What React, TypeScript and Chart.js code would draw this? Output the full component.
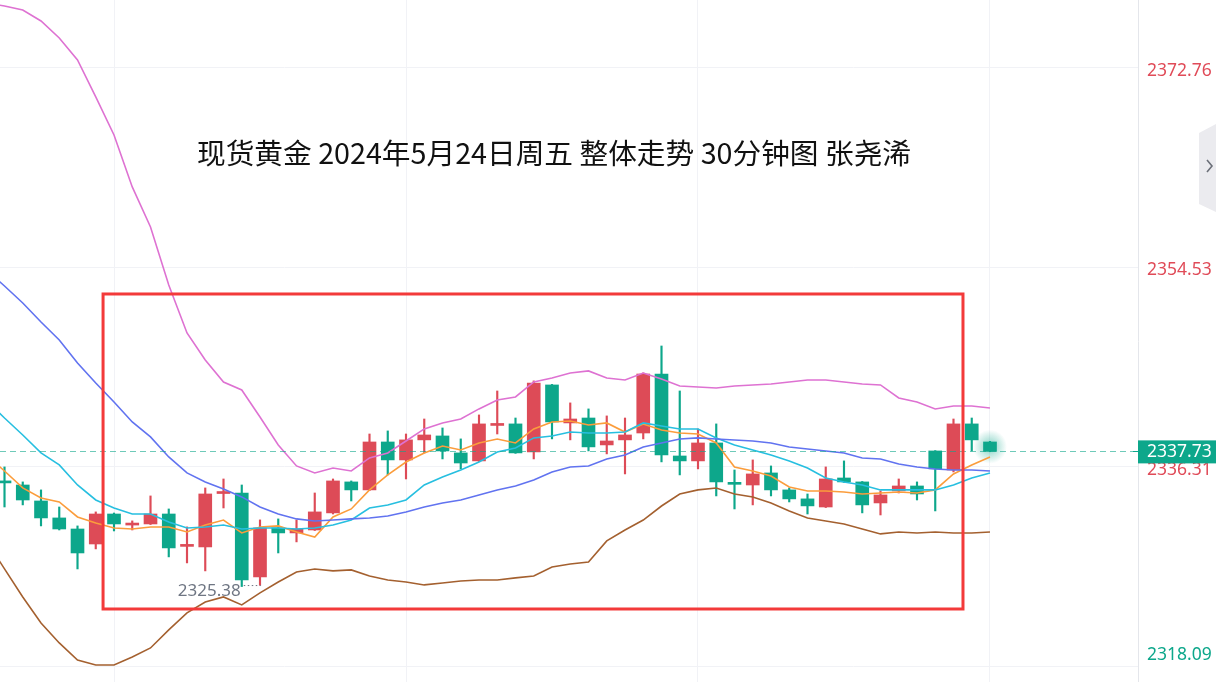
import React, { useEffect, useRef } from 'react';
import { Chart, registerables } from 'chart.js';

Chart.register(...registerables);

const TITLE = '现货黄金 2024年5月24日周五 整体走势 30分钟图 张尧浠';

// candles, index 0..54
const open = [2334.90, 2334.66, 2333.20, 2331.65, 2330.64, 2329.27, 2332.01, 2331.00, 2331.10, 2332.01, 2329.05, 2329.00, 2333.88, 2333.93, 2326.26, 2330.74, 2330.28, 2330.55, 2332.11, 2334.94, 2334.21, 2338.59, 2336.95, 2338.78, 2339.14, 2337.59, 2336.86, 2340.10, 2340.24, 2337.68, 2343.80, 2340.33, 2340.78, 2338.32, 2338.78, 2339.41, 2344.80, 2337.31, 2336.86, 2338.50, 2334.80, 2334.66, 2335.76, 2334.21, 2333.39, 2332.65, 2335.30, 2334.94, 2333.02, 2334.12, 2334.57, 2337.77, 2336.03, 2340.24, 2338.59];
const high = [2336.31, 2334.94, 2334.21, 2332.65, 2330.92, 2332.20, 2332.10, 2331.38, 2333.66, 2332.47, 2330.83, 2334.39, 2335.21, 2334.66, 2331.47, 2331.56, 2331.47, 2333.93, 2335.21, 2335.03, 2339.32, 2339.60, 2339.32, 2340.69, 2339.87, 2338.87, 2341.06, 2343.25, 2340.78, 2344.17, 2343.85, 2342.16, 2341.61, 2340.97, 2340.78, 2344.90, 2347.36, 2343.25, 2339.78, 2340.24, 2336.03, 2336.95, 2336.40, 2334.39, 2333.84, 2336.31, 2336.86, 2334.98, 2334.12, 2335.21, 2334.94, 2337.80, 2340.69, 2340.78, 2338.65];
const low = [2332.65, 2332.84, 2330.92, 2330.55, 2326.99, 2328.82, 2330.46, 2330.55, 2331.05, 2328.09, 2327.54, 2326.81, 2332.56, 2325.38, 2325.50, 2328.45, 2329.46, 2330.50, 2332.01, 2333.20, 2334.15, 2335.58, 2335.21, 2337.59, 2337.04, 2336.13, 2336.80, 2339.32, 2337.55, 2337.04, 2338.87, 2338.78, 2337.77, 2337.50, 2335.67, 2338.87, 2336.77, 2335.58, 2336.13, 2333.66, 2332.47, 2332.84, 2333.66, 2333.11, 2332.01, 2332.60, 2334.90, 2332.11, 2331.92, 2333.93, 2333.29, 2332.29, 2335.85, 2337.77, 2337.70];
const close = [2334.85, 2333.29, 2331.65, 2330.64, 2328.45, 2332.01, 2331.10, 2331.06, 2332.01, 2328.91, 2329.12, 2333.84, 2333.95, 2325.99, 2330.74, 2330.28, 2330.64, 2332.20, 2335.03, 2334.21, 2338.59, 2336.95, 2338.78, 2339.23, 2337.77, 2336.67, 2340.24, 2340.16, 2337.59, 2343.98, 2340.42, 2340.69, 2338.14, 2338.68, 2339.23, 2344.80, 2337.40, 2336.86, 2338.50, 2334.94, 2334.72, 2335.67, 2334.21, 2333.39, 2332.75, 2335.21, 2334.94, 2332.84, 2333.75, 2334.57, 2333.84, 2336.13, 2340.24, 2338.78, 2337.73];

// indicator lines, index -1..54
const LINE_START = -1;
const ma5 = [2337.40, 2335.94, 2334.39, 2333.47, 2333.11, 2331.74, 2331.19, 2330.73, 2330.64, 2330.82, 2330.82, 2330.37, 2331.01, 2331.46, 2330.28, 2330.82, 2330.92, 2330.37, 2329.91, 2331.74, 2332.47, 2334.21, 2335.58, 2336.76, 2337.59, 2338.22, 2337.86, 2338.50, 2338.86, 2338.50, 2339.78, 2340.42, 2340.51, 2340.14, 2340.33, 2339.50, 2340.23, 2339.69, 2339.41, 2339.32, 2338.50, 2336.31, 2335.94, 2335.48, 2334.48, 2334.11, 2334.11, 2334.02, 2333.84, 2333.93, 2334.02, 2333.93, 2334.21, 2335.67, 2336.49, 2337.22];
const ma10 = [2342.43, 2340.78, 2339.23, 2337.59, 2336.49, 2334.66, 2333.29, 2332.56, 2332.01, 2332.01, 2331.28, 2330.73, 2330.82, 2331.01, 2330.64, 2330.73, 2330.73, 2330.64, 2330.73, 2331.01, 2331.46, 2332.56, 2332.83, 2333.29, 2334.66, 2335.39, 2336.03, 2336.76, 2337.68, 2338.04, 2338.96, 2339.14, 2339.50, 2339.41, 2339.41, 2339.50, 2340.33, 2340.05, 2339.78, 2339.78, 2338.96, 2338.32, 2337.86, 2337.40, 2336.85, 2336.21, 2335.30, 2334.94, 2334.66, 2334.21, 2334.21, 2334.21, 2334.21, 2334.66, 2335.30, 2335.76];
const bollMid = [2354.30, 2352.84, 2351.29, 2349.55, 2347.91, 2345.81, 2343.98, 2342.24, 2340.42, 2339.05, 2337.22, 2335.76, 2334.94, 2334.30, 2333.57, 2332.65, 2332.01, 2331.56, 2331.37, 2331.46, 2331.56, 2331.65, 2331.83, 2332.20, 2332.65, 2333.02, 2333.29, 2333.75, 2334.21, 2334.57, 2335.12, 2335.85, 2336.31, 2336.40, 2337.04, 2337.40, 2338.13, 2338.50, 2338.86, 2338.96, 2338.86, 2338.77, 2338.68, 2338.50, 2338.13, 2337.95, 2337.77, 2337.59, 2337.13, 2337.04, 2336.58, 2336.31, 2336.12, 2336.03, 2336.03, 2335.94];
const bollUp = [2378.70, 2378.42, 2378.06, 2377.05, 2375.50, 2373.49, 2370.11, 2366.64, 2361.89, 2358.23, 2352.93, 2348.55, 2346.08, 2344.07, 2343.34, 2340.87, 2338.32, 2336.40, 2335.76, 2336.21, 2335.94, 2337.13, 2337.59, 2338.68, 2339.78, 2340.33, 2340.69, 2341.61, 2342.43, 2342.70, 2344.07, 2344.44, 2344.89, 2345.08, 2344.44, 2344.25, 2344.89, 2344.35, 2343.71, 2343.61, 2343.52, 2343.71, 2343.80, 2343.89, 2344.07, 2344.25, 2344.25, 2344.07, 2343.89, 2343.80, 2342.61, 2342.24, 2341.61, 2341.88, 2341.88, 2341.70];
const bollDn = [2329.60, 2326.99, 2324.43, 2322.05, 2320.23, 2318.67, 2318.22, 2318.22, 2318.95, 2319.77, 2321.42, 2322.97, 2323.97, 2324.43, 2323.70, 2324.80, 2325.80, 2326.71, 2326.99, 2326.81, 2326.90, 2326.35, 2325.98, 2325.80, 2325.53, 2325.71, 2325.89, 2325.98, 2325.98, 2326.17, 2326.35, 2327.17, 2327.44, 2327.63, 2329.55, 2330.55, 2331.46, 2332.74, 2333.84, 2334.21, 2334.39, 2333.84, 2333.57, 2333.02, 2332.29, 2331.65, 2331.37, 2331.10, 2330.64, 2330.19, 2330.37, 2330.28, 2330.37, 2330.28, 2330.28, 2330.37];

const yTicks = [2318.09, 2336.31, 2354.53, 2372.76];
const xGridIdx = [6, 22, 38, 54];
const X_RANGE = [-0.247, 62.11];
const Y_RANGE = [2316.66, 2378.97];
const PREV_CLOSE = 2330.0;
const LAST_PRICE = 2337.73;
const LOW_INDEX = 13;
const LOW_VALUE = 2325.38;
const BOX_X = [5.4, 52.52];
const BOX_Y = [2323.33, 2352.11];

const UP = '#dd4b57';
const DOWN = '#0da78b';

const candleIdx = open.map((_, i) => i);
const isUp = candleIdx.map((i) => close[i] >= open[i]);
const candleColors = isUp.map((u) => (u ? UP : DOWN));

const lineData = (arr: number[]) => arr.map((v, k) => ({ x: k + LINE_START, y: v }));

const overlay = {
  id: 'overlay',
  beforeDatasetsDraw(chart: any) {
    const { ctx, scales } = chart;
    const x = scales.x, y = scales.y;
    const last = open.length - 1;
    const cx = x.getPixelForValue(last);
    const cy = y.getPixelForValue((open[last] + close[last]) / 2);
    ctx.save();
    const g = ctx.createRadialGradient(cx, cy, 2, cx, cy, 17);
    g.addColorStop(0, 'rgba(13,167,139,0.45)');
    g.addColorStop(1, 'rgba(13,167,139,0)');
    ctx.fillStyle = g;
    ctx.beginPath();
    ctx.arc(cx, cy, 17, 0, Math.PI * 2);
    ctx.fill();
    ctx.restore();
  },
  afterDatasetsDraw(chart: any) {
    const { ctx, chartArea, scales } = chart;
    const x = scales.x, y = scales.y;
    ctx.save();
    // last price dashed line
    const py = Math.round(y.getPixelForValue(LAST_PRICE)) + 0.5;
    ctx.strokeStyle = 'rgba(13,167,139,0.6)';
    ctx.lineWidth = 1.2;
    ctx.setLineDash([6, 4]);
    ctx.beginPath();
    ctx.moveTo(chartArea.left, py);
    ctx.lineTo(chartArea.right, py);
    ctx.stroke();
    ctx.setLineDash([]);

    // low marker
    const lx = x.getPixelForValue(LOW_INDEX);
    const ly = y.getPixelForValue(LOW_VALUE);
    ctx.fillStyle = '#6f7683';
    ctx.font = '17px "Noto Sans", "DejaVu Sans", sans-serif';
    ctx.textAlign = 'right';
    ctx.textBaseline = 'middle';
    ctx.fillText(LOW_VALUE.toFixed(2), lx - 1, ly + 5);
    ctx.strokeStyle = '#6f7683';
    ctx.lineWidth = 1;
    ctx.setLineDash([1.5, 2.5]);
    ctx.beginPath();
    ctx.moveTo(lx + 2, ly - 1);
    ctx.lineTo(lx + 19, ly - 1);
    ctx.stroke();
    ctx.setLineDash([]);

    // red box
    const x0 = x.getPixelForValue(BOX_X[0]);
    const x1 = x.getPixelForValue(BOX_X[1]);
    const y0 = y.getPixelForValue(BOX_Y[1]);
    const y1 = y.getPixelForValue(BOX_Y[0]);
    ctx.strokeStyle = '#f33a3a';
    ctx.lineWidth = 3;
    ctx.strokeRect(x0, y0, x1 - x0, y1 - y0);
    ctx.restore();
  },
  afterDraw(chart: any) {
    const { ctx, chartArea, scales, width } = chart;
    const y = scales.y;
    ctx.save();
    // y tick labels
    ctx.font = '17.5px "Noto Sans", "DejaVu Sans", sans-serif';
    ctx.textAlign = 'left';
    ctx.textBaseline = 'middle';
    yTicks.forEach((v) => {
      let py = y.getPixelForValue(v) + 3;
      py = Math.min(py, chartArea.bottom - 27);
      ctx.fillStyle = v > PREV_CLOSE ? '#e04b58' : '#0da78b';
      ctx.fillText(v.toFixed(2), chartArea.right + 9, py);
    });
    // last price box
    const py = y.getPixelForValue(LAST_PRICE);
    ctx.fillStyle = '#0da78b';
    ctx.fillRect(chartArea.right, py - 11, width - chartArea.right, 23);
    ctx.fillRect(chartArea.right - 5, Math.round(py), 5, 1);
    ctx.fillStyle = '#ffffff';
    ctx.fillText(LAST_PRICE.toFixed(2), chartArea.right + 9, py + 1);

    // side tab
    ctx.fillStyle = '#ebebef';
    ctx.beginPath();
    ctx.moveTo(1199, 133);
    ctx.lineTo(1216, 124);
    ctx.lineTo(1216, 212);
    ctx.lineTo(1199, 204);
    ctx.closePath();
    ctx.fill();
    ctx.strokeStyle = '#6b6f78';
    ctx.lineWidth = 1.6;
    ctx.beginPath();
    ctx.moveTo(1207, 160);
    ctx.lineTo(1212, 166);
    ctx.lineTo(1207, 172);
    ctx.stroke();

    // title
    ctx.fillStyle = '#111111';
    ctx.font = '28.7px "Noto Sans CJK SC", "Noto Sans", sans-serif';
    ctx.textAlign = 'center';
    ctx.textBaseline = 'middle';
    ctx.fillText(TITLE, 554, 153);
    ctx.restore();
  },
};

export default function App() {
  const ref = useRef<HTMLCanvasElement>(null);
  useEffect(() => {
    const lineDs = (label: string, data: number[], color: string) => ({
      type: 'line' as const,
      label,
      data: lineData(data),
      borderColor: color,
      borderWidth: 1.6,
      pointRadius: 0,
      tension: 0,
      fill: false,
      order: 0,
    });
    const chart = new Chart(ref.current as HTMLCanvasElement, {
      type: 'bar',
      data: {
        datasets: [
          {
            type: 'bar',
            label: 'wick',
            data: candleIdx.map((i) => ({ x: i, y: [low[i], high[i]] })) as any,
            backgroundColor: candleColors,
            barThickness: 1.5,
            grouped: false,
            borderWidth: 0,
            order: 3,
          } as any,
          {
            type: 'bar',
            label: 'body',
            data: candleIdx.map((i) => ({ x: i, y: [open[i], close[i]] })) as any,
            backgroundColor: candleColors,
            barThickness: 13,
            grouped: false,
            borderWidth: 0,
            minBarLength: 2,
            order: 2,
          } as any,
          lineDs('BOLL DN', bollDn, '#a4602f'),
          lineDs('BOLL UP', bollUp, '#de72d2'),
          lineDs('BOLL MID', bollMid, '#6173f0'),
          lineDs('MA10', ma10, '#27bfe0'),
          lineDs('MA5', ma5, '#fb9d3c'),
        ],
      },
      options: {
        responsive: false,
        animation: false,
        devicePixelRatio: 1,
        events: [],
        layout: { padding: 0 },
        plugins: { legend: { display: false }, tooltip: { enabled: false }, title: { display: false } },
        scales: {
          x: {
            type: 'linear',
            min: X_RANGE[0],
            max: X_RANGE[1],
            offset: false,
            ticks: { display: false },
            grid: { color: '#f1f2f6', drawTicks: false, lineWidth: 1, offset: false },
            border: { display: false },
            afterBuildTicks: (s: any) => {
              s.ticks = xGridIdx.map((v) => ({ value: v }));
            },
            afterFit: (s: any) => {
              s.height = 0;
            },
          },
          y: {
            type: 'linear',
            position: 'right',
            min: Y_RANGE[0],
            max: Y_RANGE[1],
            ticks: { display: false },
            grid: { color: '#f1f2f6', drawTicks: false, lineWidth: 1 },
            border: { display: true, color: '#e4e6eb' },
            afterBuildTicks: (s: any) => {
              s.ticks = yTicks.map((v) => ({ value: v }));
            },
            afterFit: (s: any) => {
              s.width = 78;
            },
          },
        },
      } as any,
      plugins: [overlay],
    });
    return () => chart.destroy();
  }, []);
  return (
    <div style={{ position: 'fixed', left: 0, top: 0, width: 1216, height: 682, background: '#ffffff' }}>
      <canvas ref={ref} width={1216} height={682} style={{ display: 'block', width: 1216, height: 682 }} />
    </div>
  );
}
